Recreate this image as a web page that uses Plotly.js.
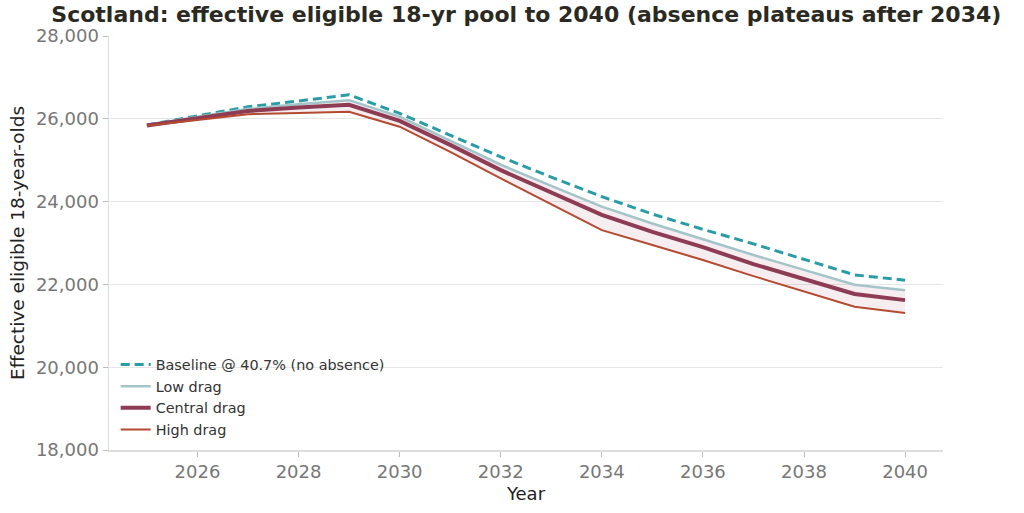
<!DOCTYPE html>
<html>
<head>
<meta charset="utf-8">
<script src="https://cdn.plot.ly/plotly-3.0.1.min.js"></script>
<style>
  html, body { margin: 0; padding: 0; background: #fff; }
  #chart { width: 1024px; height: 513px; }
</style>
</head>
<body>
<div id="chart"></div>
<script>
  // years and the four scenarios
  var years = [2025, 2026, 2027, 2028, 2029, 2030, 2031, 2032, 2033, 2034, 2035, 2036, 2037, 2038, 2039, 2040];
  var baseline = [25850, 26070, 26290, 26430, 26580, 26130, 25610, 25080, 24590, 24120, 23700, 23330, 22980, 22610, 22230, 22100];
  var lowDrag = [25850, 26040, 26240, 26350, 26450, 26050, 25480, 24890, 24380, 23880, 23470, 23090, 22710, 22350, 21990, 21860];
  var centralDrag = [25840, 26010, 26190, 26270, 26340, 25950, 25370, 24760, 24210, 23680, 23270, 22900, 22490, 22140, 21770, 21620];
  var highDrag = [25830, 25970, 26110, 26140, 26170, 25810, 25200, 24560, 23930, 23310, 22950, 22590, 22200, 21830, 21460, 21310];
  var yTicks = [18000, 20000, 22000, 24000, 26000, 28000];
  var xTicks = [2026, 2028, 2030, 2032, 2034, 2036, 2038, 2040];

  var font = "DejaVu Sans, sans-serif";

  var data = [
    // shaded band between low and high drag
    {
      x: years, y: lowDrag, type: "scatter", mode: "lines",
      line: { width: 0, color: "rgba(0,0,0,0)" },
      showlegend: false, hoverinfo: "skip"
    },
    {
      x: years, y: highDrag, type: "scatter", mode: "lines",
      line: { width: 0, color: "rgba(0,0,0,0)" },
      fill: "tonexty", fillcolor: "rgba(142,59,84,0.09)",
      showlegend: false, hoverinfo: "skip"
    },
    {
      x: years, y: baseline, name: "Baseline @ 40.7% (no absence)",
      type: "scatter", mode: "lines",
      line: { color: "#2a9ca6", width: 3, dash: "9px,5px" }
    },
    {
      x: years, y: lowDrag, name: "Low drag",
      type: "scatter", mode: "lines",
      line: { color: "#a3c4c9", width: 2.5 }
    },
    {
      x: years, y: centralDrag, name: "Central drag",
      type: "scatter", mode: "lines",
      line: { color: "#8e3b54", width: 4 }
    },
    {
      x: years, y: highDrag, name: "High drag",
      type: "scatter", mode: "lines",
      line: { color: "#b44a30", width: 2 }
    }
  ];

  var layout = {
    width: 1024,
    height: 513,
    margin: { l: 109, r: 81, t: 36, b: 63 },
    paper_bgcolor: "#fff",
    plot_bgcolor: "#fff",
    font: { family: font, color: "#333" },
    title: {
      text: "<b>Scotland: effective eligible 18-yr pool to 2040 (absence plateaus after 2034)</b>",
      font: { family: font, size: 22, color: "#2b2a22" },
      x: 0.514, xanchor: "center", y: 0.973, yanchor: "middle"
    },
    xaxis: {
      range: [2024.25, 2040.75],
      tickvals: xTicks,
      ticks: "outside", ticklen: 5, tickcolor: "#bbb",
      tickfont: { family: font, size: 18, color: "#777" },
      showgrid: false, zeroline: false,
      showline: true, linecolor: "#ddd", linewidth: 1.5,
      title: { text: "Year", font: { family: font, size: 18, color: "#222" }, standoff: 6 }
    },
    yaxis: {
      range: [18000, 28000],
      tickvals: yTicks,
      tickformat: ",d",
      ticks: "outside", ticklen: 5, tickcolor: "#bbb",
      tickfont: { family: font, size: 18, color: "#777" },
      showgrid: true, gridcolor: "#e6e6e6", gridwidth: 1,
      zeroline: false,
      showline: true, linecolor: "#ddd", linewidth: 1.5,
      title: { text: "Effective eligible 18-year-olds", font: { family: font, size: 18.5, color: "#222" }, standoff: 6 }
    },
    legend: {
      x: 0.008, xanchor: "left",
      y: 0.245, yanchor: "top",
      bgcolor: "rgba(0,0,0,0)",
      font: { family: font, size: 14.4, color: "#333" },
      traceorder: "normal"
    },
    showlegend: true
  };

  Plotly.newPlot("chart", data, layout, { displayModeBar: false, staticPlot: true });
</script>
</body>
</html>
